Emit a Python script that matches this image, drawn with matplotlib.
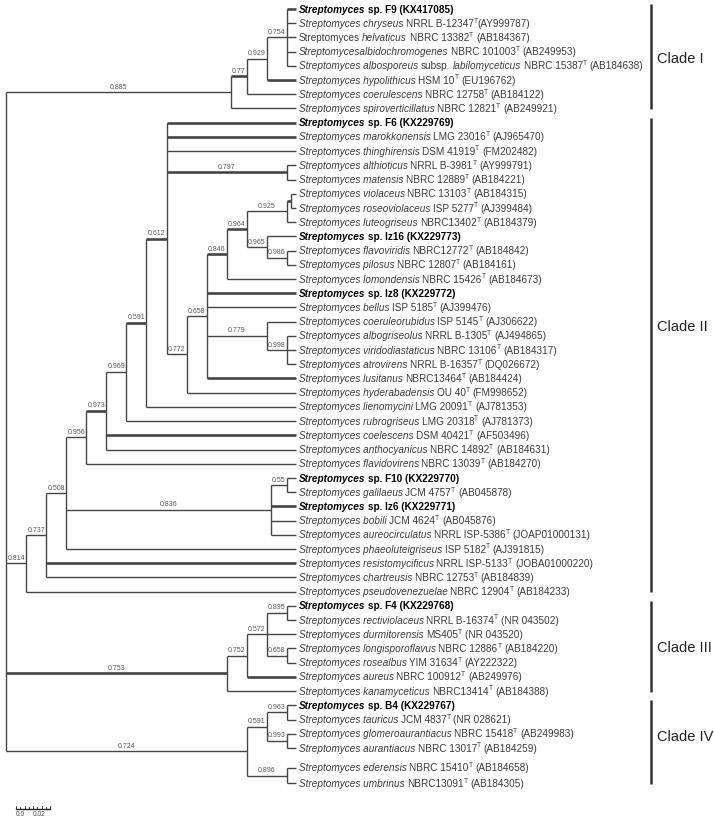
import matplotlib
matplotlib.use('Agg')
import matplotlib.pyplot as plt
from matplotlib.font_manager import FontProperties

# tip labels, top to bottom
# '**' at start = own isolate (bold), '_' toggles italic, '^T' = type strain superscript
tips = [
    "**_Streptomyces_ sp. F9 (KX417085)",
    "_Streptomyces chryseus_ NRRL B-12347^T(AY999787)",
    "Streptomyces _helvaticus_ NBRC 13382^T (AB184367)",
    "_Streptomycesalbidochromogenes_ NBRC 101003^T (AB249953)",
    "_Streptomyces albosporeus_ subsp. _labilomyceticus_ NBRC 15387^T (AB184638)",
    "_Streptomyces hypolithicus_ HSM 10^T (EU196762)",
    "_Streptomyces coerulescens_ NBRC 12758^T (AB184122)",
    "_Streptomyces spiroverticillatus_ NBRC 12821^T (AB249921)",
    "**_Streptomyces_ sp. F6 (KX229769)",
    "_Streptomyces marokkonensis_ LMG 23016^T (AJ965470)",
    "_Streptomyces thinghirensis_ DSM 41919^T (FM202482)",
    "_Streptomyces althioticus_ NRRL B-3981^T (AY999791)",
    "_Streptomyces matensis_ NBRC 12889^T (AB184221)",
    "_Streptomyces violaceus_ NBRC 13103^T (AB184315)",
    "_Streptomyces roseoviolaceus_ ISP 5277^T (AJ399484)",
    "_Streptomyces luteogriseus_ NBRC13402^T (AB184379)",
    "**_Streptomyces_ sp. Iz16 (KX229773)",
    "_Streptomyces flavoviridis_ NBRC12772^T (AB184842)",
    "_Streptomyces pilosus_ NBRC 12807^T (AB184161)",
    "_Streptomyces lomondensis_ NBRC 15426^T (AB184673)",
    "**_Streptomyces_ sp. Iz8 (KX229772)",
    "_Streptomyces bellus_ ISP 5185^T (AJ399476)",
    "_Streptomyces coeruleorubidus_ ISP 5145^T (AJ306622)",
    "_Streptomyces albogriseolus_ NRRL B-1305^T (AJ494865)",
    "_Streptomyces viridodiastaticus_ NBRC 13106^T (AB184317)",
    "_Streptomyces atrovirens_ NRRL B-16357^T (DQ026672)",
    "_Streptomyces lusitanus_ NBRC13464^T (AB184424)",
    "_Streptomyces hyderabadensis_ OU 40^T (FM998652)",
    "_Streptomyces lienomycini_ LMG 20091^T (AJ781353)",
    "_Streptomyces rubrogriseus_ LMG 20318^T (AJ781373)",
    "_Streptomyces coelescens_ DSM 40421^T (AF503496)",
    "_Streptomyces anthocyanicus_ NBRC 14892^T (AB184631)",
    "_Streptomyces flavidovirens_ NBRC 13039^T (AB184270)",
    "**_Streptomyces_ sp. F10 (KX229770)",
    "_Streptomyces galilaeus_ JCM 4757^T (AB045878)",
    "**_Streptomyces_ sp. Iz6 (KX229771)",
    "_Streptomyces bobili_ JCM 4624^T (AB045876)",
    "_Streptomyces aureocirculatus_ NRRL ISP-5386^T (JOAP01000131)",
    "_Streptomyces phaeoluteigriseus_ ISP 5182^T (AJ391815)",
    "_Streptomyces resistomycificus_ NRRL ISP-5133^T (JOBA01000220)",
    "_Streptomyces chartreusis_ NBRC 12753^T (AB184839)",
    "_Streptomyces pseudovenezuelae_ NBRC 12904^T (AB184233)",
    "**_Streptomyces_ sp. F4 (KX229768)",
    "_Streptomyces rectiviolaceus_ NRRL B-16374^T (NR 043502)",
    "_Streptomyces durmitorensis_ MS405^T (NR 043520)",
    "_Streptomyces longisporoflavus_ NBRC 12886^T (AB184220)",
    "_Streptomyces rosealbus_ YIM 31634^T (AY222322)",
    "_Streptomyces aureus_ NBRC 100912^T (AB249976)",
    "_Streptomyces kanamyceticus_ NBRC13414^T (AB184388)",
    "**_Streptomyces_ sp. B4 (KX229767)",
    "_Streptomyces tauricus_ JCM 4837^T (NR 028621)",
    "_Streptomyces glomeroaurantiacus_ NBRC 15418^T (AB249983)",
    "_Streptomyces aurantiacus_ NBRC 13017^T (AB184259)",
    "_Streptomyces ederensis_ NBRC 15410^T (AB184658)",
    "_Streptomyces umbrinus_ NBRC13091^T (AB184305)",
]
tip_rows = list(range(53)) + [53.4, 54.5]

# internal nodes: name -> (children, depth level, support value on its stem)
nodes = {
    'n754':  ([0, 1, 2, 3, 4], 14, '0.754'),
    'n929':  (['n754', 5], 13, '0.929'),
    'n77':   (['n929', 6], 12, '0.77'),
    'n885':  (['n77', 7], 11.2, '0.885'),
    'n797':  ([11, 12], 14, '0.797'),
    'nvio':  ([13, 14], 14.2, ''),
    'n925':  (['nvio', 15], 14, '0.925'),
    'n986':  ([17, 18], 14, '0.986'),
    'n965':  ([16, 'n986'], 13, '0.965'),
    'n964':  (['n925', 'n965'], 12, '0.964'),
    'n846':  (['n964', 19], 11, '0.846'),
    'n998':  ([23, 24, 25], 14, '0.998'),
    'n779':  ([22, 'n998'], 13, '0.779'),
    'n658':  (['n846', 20, 21, 'n779', 26], 10, '0.658'),
    'n772':  (['n658', 27], 9, '0.772'),
    'n612':  ([8, 9, 10, 'n797', 'n772'], 8, '0.612'),
    'n591':  (['n612', 28], 7, '0.591'),
    'n969':  (['n591', 29], 6, '0.969'),
    'n973':  (['n969', 30, 31], 5, '0.973'),
    'n956':  (['n973', 32], 4, '0.956'),
    'n55':   ([33, 34], 14, '0.55'),
    'n836':  (['n55', 35, 36, 37], 13.2, '0.836'),
    'n508':  (['n956', 'n836', 38], 3, '0.508'),
    'n737':  (['n508', 39, 40], 2, '0.737'),
    'n814':  (['n737', 41], 1, '0.814'),
    'n895':  ([42, 43], 14, '0.895'),
    'n658b': ([45, 46], 14, '0.658'),
    'n572':  (['n895', 44, 'n658b'], 13, '0.572'),
    'n752':  (['n572', 47], 12, '0.752'),
    'n753':  (['n752', 48], 11, '0.753'),
    'n963':  ([49, 50], 14, '0.963'),
    'n993':  ([51, 52], 14, '0.993'),
    'n591b': (['n963', 'n993'], 13, '0.591'),
    'n896':  ([53, 54], 14, '0.896'),
    'n724':  (['n591b', 'n896'], 12, '0.724'),
    'root':  (['n885', 'n814', 'n753', 'n724'], 0, ''),
}

clades = ['Clade I', 'Clade II', 'Clade III', 'Clade IV']
clade_tips = [(0, 7), (8, 41), (42, 48), (49, 54)]

# branches drawn heavier in the original
thick = {0, 5, 8, 9, 20, 26, 30, 35, 39, 47,
         'n77', 'n797', 'n612', 'n964', 'n846', 'n591', 'n973', 'nvio', 'n753'}

tip_x = 14.45
FONT = 'Liberation Sans'
line_c = '#454545'
text_c = '#3a3a3a'

fig = plt.figure(figsize=(7.14, 8.23), dpi=100)
ax = fig.add_axes([0, 0, 1, 1])
ax.set_xlim(-6 / 20.07, 708 / 20.07)
ax.set_ylim(814 / 14.21, -9 / 14.21)
ax.axis('off')

px_x = 20.07   # pixels per depth level
px_y = 14.21   # pixels per row


def get_x(c):
    return tip_x if isinstance(c, int) else nodes[c][1]


def get_y(c):
    if isinstance(c, int):
        return tip_rows[c]
    kids = nodes[c][0]
    return (get_y(kids[0]) + get_y(kids[-1])) / 2


for name, (kids, depth, sup) in nodes.items():
    ys = [get_y(k) for k in kids]
    ax.plot([depth, depth], [min(ys), max(ys)], color=line_c, lw=1.0,
            solid_capstyle='butt')
    for k, yk in zip(kids, ys):
        xk = get_x(k)
        lw = 1.9 if k in thick else 1.0
        ax.plot([depth, xk], [yk, yk], color=line_c, lw=lw, solid_capstyle='butt')
        if not isinstance(k, int) and nodes[k][2]:
            ax.text((depth + xk) / 2, yk - 1.5 / px_y, nodes[k][2], ha='center',
                    va='bottom', fontsize=5, family=FONT, color='#555555')

# tip labels, built from styled pieces
renderer = fig.canvas.get_renderer()


def advance(s, fp):
    w1 = renderer.get_text_width_height_descent('|' + s + '|', fp, ismath=False)[0]
    w0 = renderer.get_text_width_height_descent('||', fp, ismath=False)[0]
    return (w1 - w0) / px_x


size = 7.2
for i, lab in enumerate(tips):
    bold = lab.startswith('**')
    if bold:
        lab = lab[2:]
    x = tip_x + 2.5 / px_x
    base = tip_rows[i] + 3.6 / px_y
    for j, part in enumerate(lab.split('_')):
        fp = FontProperties(family=FONT, size=size,
                            style='italic' if j % 2 else 'normal',
                            weight='bold' if bold else 'normal')
        pieces = part.split('^T')
        for m, piece in enumerate(pieces):
            if m > 0:
                fs = FontProperties(family=FONT, size=4.8)
                ax.text(x, base - 4.2 / px_y, 'T', fontproperties=fs,
                        va='baseline', ha='left', color=text_c)
                x += advance('T', fs)
            core = piece.strip(' ')
            if core:
                lead = piece[:len(piece) - len(piece.lstrip(' '))]
                ax.text(x + advance(lead, fp), base, core, fontproperties=fp,
                        va='baseline', ha='left',
                        color='black' if bold else text_c)
            x += advance(piece, fp)

# clade bars
bar_x = (651 - 6) / px_x
label_rows = [3.5, 22.4, 45.0, 51.2]
for name, (a, b), ly in zip(clades, clade_tips, label_rows):
    ax.plot([bar_x, bar_x], [tip_rows[a] - 0.35, tip_rows[b] + 0.05],
            color='#333333', lw=1.8, solid_capstyle='butt')
    ax.text(bar_x + 6 / px_x, ly, name, ha='left', va='center',
            fontsize=10.5, family=FONT, color='#222222')

# scale bar
sx0 = (16 - 6) / px_x
unit = 17 / px_x / 0.02
sy = (809 - 9) / px_y
ax.plot([sx0, sx0 + 0.04 * unit], [sy, sy], color='#222222', lw=1.0)
for k in range(9):
    tx = sx0 + k * 0.005 * unit
    h = 3.0 if k % 2 == 0 else 2.0
    ax.plot([tx, tx], [sy, sy - h / px_y], color='#222222', lw=0.6)
for val, lab in [(0.0, '0.0'), (0.02, '0.02')]:
    ax.text(sx0 + val * unit, sy + 2 / px_y, lab, ha='left', va='top',
            fontsize=4.8, family=FONT, color='#444444')

fig.savefig('out.png', dpi=100)
